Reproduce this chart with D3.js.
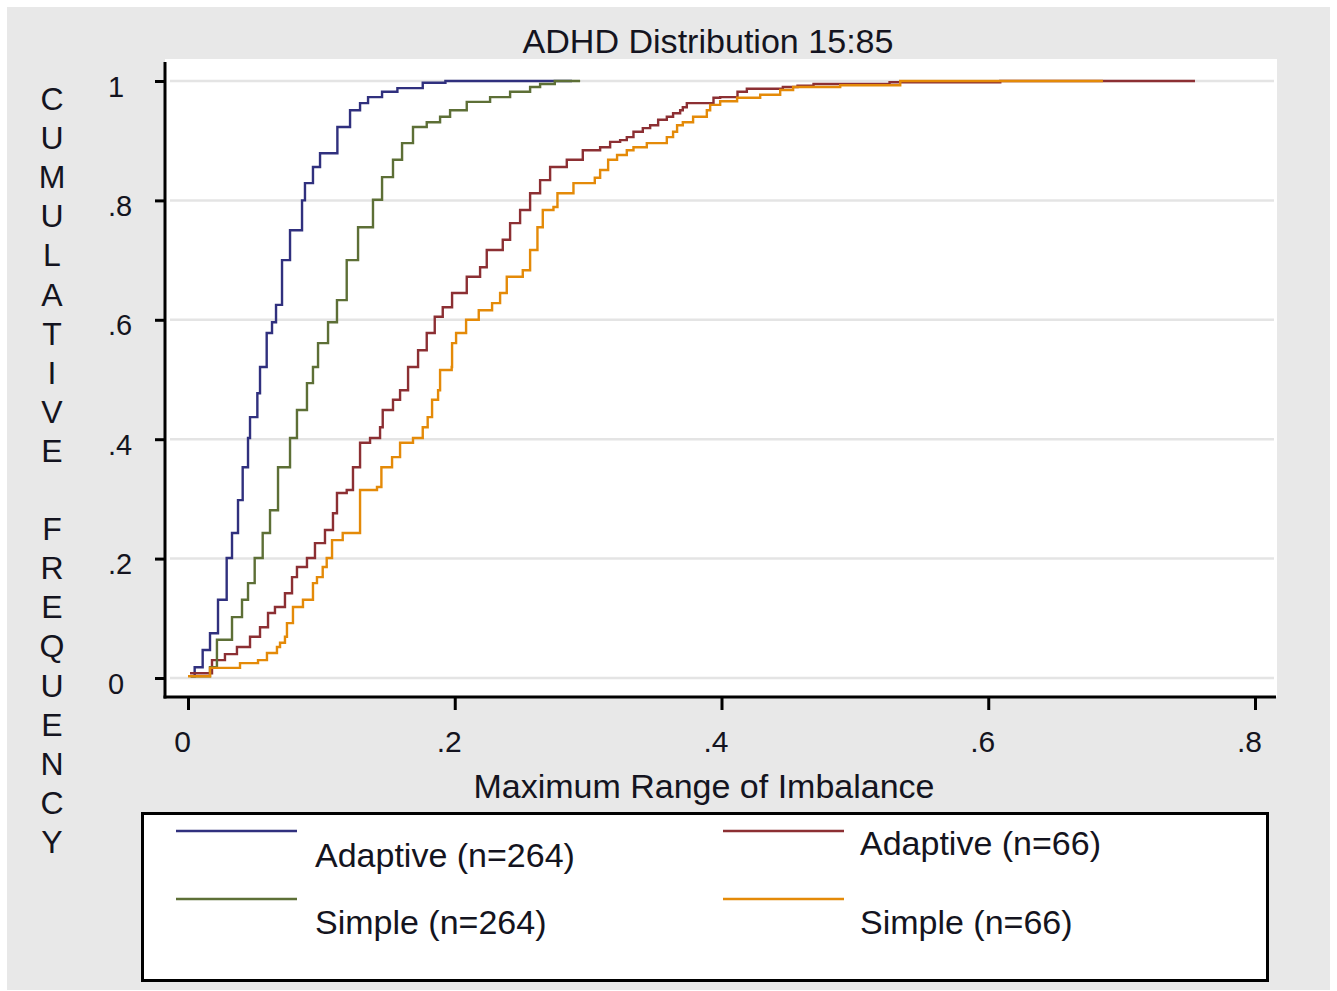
<!DOCTYPE html>
<html>
<head>
<meta charset="utf-8">
<script src="https://cdn.jsdelivr.net/npm/d3@7"></script>
<style>
  html, body { margin: 0; padding: 0; background: #ffffff; }
  svg { display: block; font-family: "Liberation Sans", Arial, sans-serif; }
</style>
</head>
<body>
<svg id="chart" width="1337" height="991"></svg>
<script>
// ---------------- data ----------------
const chartTitle = "ADHD Distribution 15:85";
const xTitle = "Maximum Range of Imbalance";
const yTitle = "CUMULATIVE FREQUENCY";
const xTicks = [0, 0.2, 0.4, 0.6, 0.8];
const xTickLabels = ["0", ".2", ".4", ".6", ".8"];
const yTicks = [0, 0.2, 0.4, 0.6, 0.8, 1];
const yTickLabels = ["0", ".2", ".4", ".6", ".8", "1"];
const seriesNames = ["Adaptive (n=264)", "Adaptive (n=66)", "Simple (n=264)", "Simple (n=66)"];

// [max range of imbalance, cumulative frequency]
const adaptive264 = [
  [0.002, 0.003], [0.005, 0.018], [0.011, 0.047], [0.0165, 0.075], [0.0225, 0.131],
  [0.029, 0.201], [0.033, 0.243], [0.0375, 0.298], [0.041, 0.353], [0.045, 0.402],
  [0.0465, 0.437], [0.052, 0.477], [0.054, 0.521], [0.059, 0.578], [0.063, 0.596],
  [0.066, 0.625], [0.0705, 0.700], [0.0765, 0.750], [0.0855, 0.800], [0.0877, 0.829],
  [0.0937, 0.856], [0.099, 0.879], [0.112, 0.923], [0.1215, 0.951], [0.129, 0.963],
  [0.135, 0.973], [0.1455, 0.982], [0.157, 0.988], [0.176, 0.997], [0.193, 1.000],
  [0.288, 1.000]
];
const simple264 = [
  [0.002, 0.003], [0.0165, 0.018], [0.0217, 0.064], [0.033, 0.102], [0.0405, 0.131],
  [0.045, 0.159], [0.050, 0.201], [0.056, 0.243], [0.0615, 0.281], [0.0675, 0.353],
  [0.0765, 0.402], [0.0817, 0.449], [0.0892, 0.494], [0.0937, 0.521], [0.0975, 0.561],
  [0.105, 0.596], [0.1117, 0.633], [0.119, 0.700], [0.1275, 0.755], [0.1387, 0.801],
  [0.1455, 0.839], [0.1537, 0.868], [0.1605, 0.896], [0.1687, 0.923], [0.179, 0.931],
  [0.189, 0.940], [0.1965, 0.951], [0.209, 0.965], [0.2265, 0.973], [0.2415, 0.982],
  [0.2565, 0.990], [0.264, 0.995], [0.275, 1.000], [0.294, 1.000]
];
const adaptive66 = [
  [0.0015, 0.008], [0.018, 0.030], [0.0277, 0.040], [0.0367, 0.052], [0.0465, 0.069],
  [0.054, 0.085], [0.060, 0.109], [0.0652, 0.119], [0.0727, 0.142], [0.078, 0.169],
  [0.0817, 0.186], [0.0892, 0.201], [0.0952, 0.226], [0.1027, 0.248], [0.1087, 0.276],
  [0.1117, 0.310], [0.119, 0.315], [0.1237, 0.353], [0.129, 0.394], [0.1365, 0.402],
  [0.144, 0.420], [0.146, 0.449], [0.1537, 0.466], [0.159, 0.482], [0.165, 0.521],
  [0.1725, 0.549], [0.179, 0.578], [0.185, 0.605], [0.191, 0.621], [0.198, 0.645],
  [0.209, 0.672], [0.219, 0.688], [0.224, 0.717], [0.236, 0.734], [0.2415, 0.762],
  [0.249, 0.784], [0.2565, 0.812], [0.264, 0.834], [0.2715, 0.856], [0.284, 0.868],
  [0.296, 0.884], [0.309, 0.889], [0.3165, 0.898], [0.324, 0.901], [0.329, 0.906],
  [0.334, 0.915], [0.341, 0.921], [0.3465, 0.926], [0.3525, 0.935], [0.359, 0.940],
  [0.3637, 0.946], [0.369, 0.951], [0.371, 0.956], [0.374, 0.963], [0.394, 0.972],
  [0.399, 0.973], [0.412, 0.982], [0.419, 0.987], [0.446, 0.990], [0.457, 0.992],
  [0.469, 0.995], [0.526, 0.998], [0.609, 1.000], [0.755, 1.000]
];
const simple66 = [
  [0.000, 0.003], [0.0165, 0.017], [0.039, 0.025], [0.0525, 0.030], [0.0592, 0.042],
  [0.0667, 0.052], [0.069, 0.059], [0.0727, 0.069], [0.0742, 0.092], [0.0787, 0.119],
  [0.0862, 0.131], [0.0937, 0.159], [0.0967, 0.169], [0.101, 0.186], [0.104, 0.201],
  [0.108, 0.231], [0.116, 0.243], [0.129, 0.253], [0.129, 0.315], [0.1417, 0.320],
  [0.145, 0.353], [0.153, 0.370], [0.159, 0.394], [0.1687, 0.402], [0.176, 0.420],
  [0.1797, 0.437], [0.183, 0.466], [0.1875, 0.482], [0.189, 0.516], [0.1977, 0.521],
  [0.198, 0.561], [0.201, 0.578], [0.2085, 0.600], [0.218, 0.616], [0.228, 0.628],
  [0.234, 0.645], [0.239, 0.672], [0.251, 0.683], [0.2565, 0.717], [0.262, 0.755],
  [0.266, 0.784], [0.274, 0.789], [0.277, 0.812], [0.289, 0.829], [0.305, 0.838],
  [0.309, 0.851], [0.315, 0.868], [0.3217, 0.876], [0.329, 0.884], [0.334, 0.889],
  [0.344, 0.896], [0.359, 0.906], [0.3637, 0.915], [0.3667, 0.926], [0.371, 0.931],
  [0.3787, 0.940], [0.389, 0.951], [0.3915, 0.960], [0.399, 0.966], [0.4117, 0.972],
  [0.429, 0.977], [0.444, 0.985], [0.4537, 0.990], [0.489, 0.993], [0.534, 1.000],
  [0.686, 1.000]
];
const seriesColors = ["#30307e", "#8c2f33", "#5d6f36", "#e48a08"];

// ---------------- drawing ----------------
const svg = d3.select("#chart");
const font = "'Liberation Sans', Arial, sans-serif";
const ink = "#141420";

// outer gray panel
svg.append("rect").attr("x", 7).attr("y", 7).attr("width", 1323).attr("height", 983)
  .attr("fill", "#e8e8e8");

// plot region
const plotL = 165, plotR = 1277, plotT = 59, plotB = 697;
svg.append("rect").attr("x", plotL).attr("y", plotT)
  .attr("width", plotR - plotL).attr("height", plotB - plotT).attr("fill", "#ffffff");

const x = d3.scaleLinear().domain([0, 0.8]).range([188, 1255]);
const y = d3.scaleLinear().domain([0, 1]).range([678, 81]);

// gridlines
svg.append("g").selectAll("line").data(yTicks).join("line")
  .attr("x1", plotL + 5).attr("x2", plotR - 3)
  .attr("y1", d => y(d)).attr("y2", d => y(d))
  .attr("stroke", "#e4e4e4").attr("stroke-width", 2.5);

// series lines (step functions, drawing order as in original)
const line = d3.line().x(d => x(d[0])).y(d => y(d[1])).curve(d3.curveStepAfter);
const drawOrder = [
  { data: adaptive264, color: seriesColors[0] },
  { data: adaptive66, color: seriesColors[1] },
  { data: simple264, color: seriesColors[2] },
  { data: simple66, color: seriesColors[3] }
];
svg.append("g").selectAll("path").data(drawOrder).join("path")
  .attr("d", d => line(d.data))
  .attr("fill", "none")
  .attr("stroke", d => d.color)
  .attr("stroke-width", 2.4)
  .attr("stroke-linejoin", "miter");

// axes
const yAxis = d3.axisLeft(y).tickValues(yTicks).tickSize(10)
  .tickFormat((d, i) => yTickLabels[i]);
const gy = svg.append("g").attr("transform", `translate(${plotL},0)`).call(yAxis);
gy.select(".domain").remove();
gy.selectAll(".tick line").attr("stroke", "#000").attr("stroke-width", 3);
gy.selectAll(".tick text")
  .attr("x", -57).attr("dy", null).attr("y", 15)
  .attr("text-anchor", "start")
  .style("font-family", font).style("font-size", "29px").attr("fill", ink);

const xAxis = d3.axisBottom(x).tickValues(xTicks).tickSize(13)
  .tickFormat((d, i) => xTickLabels[i]);
const gx = svg.append("g").attr("transform", `translate(0,${plotB})`).call(xAxis);
gx.select(".domain").remove();
gx.selectAll(".tick line").attr("stroke", "#000").attr("stroke-width", 3);
gx.selectAll(".tick text")
  .attr("x", -6).attr("dy", null).attr("y", 55)
  .style("font-family", font).style("font-size", "30px").attr("fill", ink);

// axis spines
svg.append("line").attr("x1", plotL).attr("x2", plotL).attr("y1", 62).attr("y2", plotB + 1.5)
  .attr("stroke", "#000").attr("stroke-width", 3);
svg.append("line").attr("x1", plotL - 1.5).attr("x2", plotR - 1).attr("y1", plotB).attr("y2", plotB)
  .attr("stroke", "#000").attr("stroke-width", 3);

// title
svg.append("text").attr("x", 708).attr("y", 53).attr("text-anchor", "middle")
  .attr("textLength", 371).attr("lengthAdjust", "spacingAndGlyphs")
  .style("font-family", font).style("font-size", "33px").attr("fill", ink)
  .text(chartTitle);

// x title
svg.append("text").attr("x", 704).attr("y", 798).attr("text-anchor", "middle")
  .attr("textLength", 461).attr("lengthAdjust", "spacingAndGlyphs")
  .style("font-family", font).style("font-size", "33px").attr("fill", ink)
  .text(xTitle);

// y title: stacked letters
const yLetters = yTitle.split("");
svg.append("g").selectAll("text").data(yLetters).join("text")
  .attr("x", 52).attr("y", (d, i) => 110 + i * 39.1)
  .attr("text-anchor", "middle")
  .style("font-family", font).style("font-size", "32px").attr("fill", ink)
  .text(d => d);

// legend
svg.append("rect").attr("x", 142.5).attr("y", 813.5).attr("width", 1125).attr("height", 167)
  .attr("fill", "#ffffff").attr("stroke", "#000").attr("stroke-width", 3);

const legendItems = [
  { name: seriesNames[0], color: seriesColors[0], lx: 176, ly: 831, tx: 315, ty: 867 },
  { name: seriesNames[1], color: seriesColors[1], lx: 723, ly: 831, tx: 860, ty: 855 },
  { name: seriesNames[2], color: seriesColors[2], lx: 176, ly: 899, tx: 315, ty: 934 },
  { name: seriesNames[3], color: seriesColors[3], lx: 723, ly: 899, tx: 860, ty: 934 }
];
const lg = svg.append("g").selectAll("g").data(legendItems).join("g");
lg.append("line")
  .attr("x1", d => d.lx).attr("x2", d => d.lx + 121)
  .attr("y1", d => d.ly).attr("y2", d => d.ly)
  .attr("stroke", d => d.color).attr("stroke-width", 2.4);
lg.append("text")
  .attr("x", d => d.tx).attr("y", d => d.ty)
  .style("font-family", font).style("font-size", "34px").attr("fill", ink)
  .text(d => d.name);
</script>
</body>
</html>
